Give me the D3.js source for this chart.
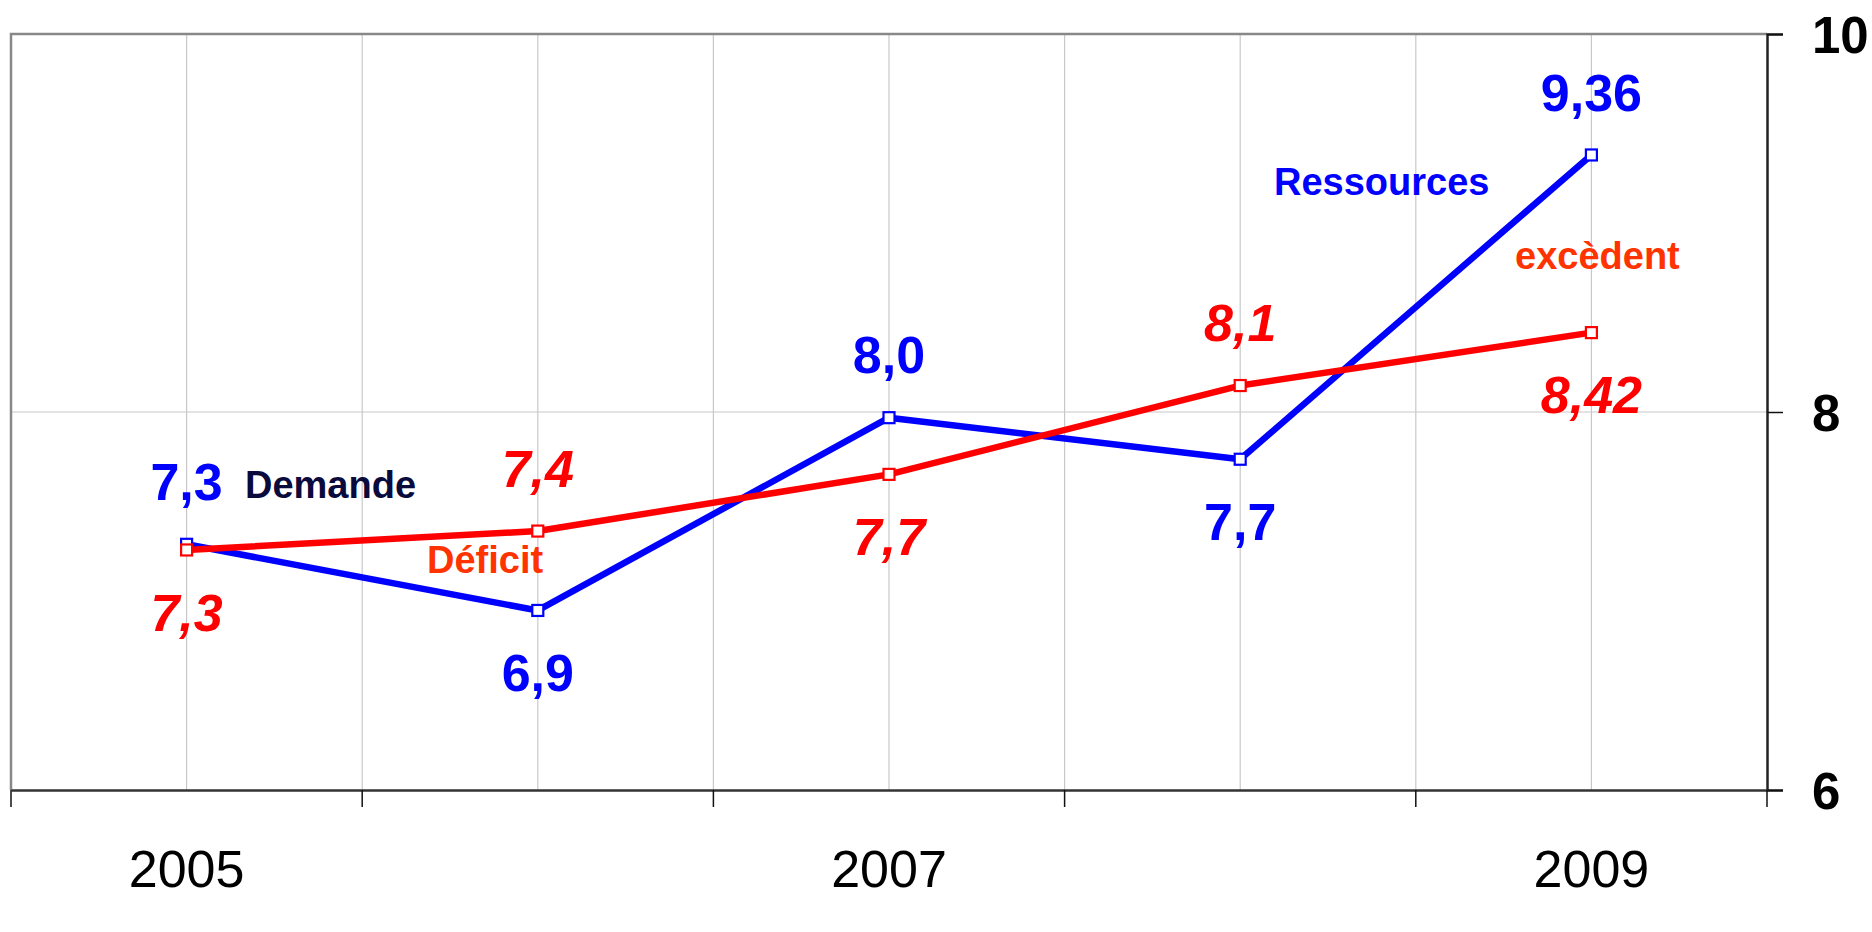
<!DOCTYPE html>
<html>
<head>
<meta charset="utf-8">
<script src="https://cdn.jsdelivr.net/npm/d3@7"></script>
<style>
    body { margin: 0; background: #fff; }
    svg { display: block; font-family: "Liberation Sans", Arial, sans-serif; }
</style>
</head>
<body>
<div id="container"></div>
<script>
const years = ['2005', '2006', '2007', '2008', '2009'];
const labelledYears = ['2005', '2007', '2009'];
const ressources = [7.30, 6.95, 7.97, 7.75, 9.36];
const ressourcesLabels = ['7,3', '6,9', '8,0', '7,7', '9,36'];
const deficit = [7.27, 7.37, 7.67, 8.14, 8.42];
const deficitLabels = ['7,3', '7,4', '7,7', '8,1', '8,42'];
const yTicks = [6, 8, 10];

const drawChart = () => {

    const width = 1872;
    const height = 932;
    const left = 11, right = 1767, top = 34, bottom = 790;

    const BLUE = '#0000ff';
    const RED = '#ff0000';

    const svg = d3.select('#container')
        .append('svg')
        .attr('width', width)
        .attr('height', height);

    const x = d3.scaleBand()
        .domain(years)
        .range([left, right])
        .padding(0);

    const y = d3.scaleLinear()
        .domain([6, 10])
        .range([bottom, top]);

    const cx = d => x(d) + x.bandwidth() / 2;

    // vertical gridlines: band edges and band centres
    const gridX = [];
    years.forEach(d => { gridX.push(x(d)); gridX.push(cx(d)); });

    svg.append('g')
        .selectAll('line')
        .data(gridX.slice(1))
        .join('line')
        .attr('x1', d => d).attr('x2', d => d)
        .attr('y1', top).attr('y2', bottom)
        .attr('stroke', '#c8c8c8')
        .attr('stroke-width', 1.2);

    // horizontal gridline at 8
    svg.append('line')
        .attr('x1', left).attr('x2', right)
        .attr('y1', y(8)).attr('y2', y(8))
        .attr('stroke', '#c8c8c8')
        .attr('stroke-width', 1.2);

    // frame top & left
    svg.append('path')
        .attr('d', `M${left},${bottom}V${top}H${right}`)
        .attr('fill', 'none')
        .attr('stroke', '#888')
        .attr('stroke-width', 2.5);

    // right y axis
    const yAxis = svg.append('g')
        .attr('transform', `translate(${right},0)`)
        .call(d3.axisRight(y).tickValues(yTicks).tickSize(16).tickPadding(29).tickFormat(d3.format('d')));
    yAxis.select('.domain').attr('stroke', '#222').attr('stroke-width', 2.5);
    yAxis.selectAll('.tick line').attr('stroke', '#111').attr('stroke-width', 1.5);
    yAxis.selectAll('text')
        .attr('font-family', '"Liberation Sans", Arial, sans-serif')
        .attr('font-size', 51)
        .attr('font-weight', 'bold')
        .attr('fill', '#000')
        .attr('dy', '0.36em');

    // bottom x axis
    const xAxis = svg.append('g')
        .attr('transform', `translate(0,${bottom})`)
        .call(d3.axisBottom(x).tickSize(0).tickPadding(60)
            .tickFormat(d => labelledYears.includes(d) ? d : ''));
    xAxis.select('.domain').attr('stroke', '#333').attr('stroke-width', 2.5);
    xAxis.selectAll('text')
        .attr('font-family', '"Liberation Sans", Arial, sans-serif')
        .attr('font-size', 52)
        .attr('fill', '#000')
        .attr('dy', '0.72em');

    xAxis.selectAll('.edge')
        .data(years.map(d => x(d)).concat([right]))
        .join('line')
        .attr('class', 'edge')
        .attr('x1', d => d).attr('x2', d => d)
        .attr('y1', 0).attr('y2', 17)
        .attr('stroke', '#111')
        .attr('stroke-width', 1.5);

    const line = d3.line()
        .x((d, i) => cx(years[i]))
        .y(d => y(d));

    const drawSeries = (values, color) => {
        svg.append('path')
            .datum(values)
            .attr('fill', 'none')
            .attr('stroke', color)
            .attr('stroke-width', 6.5)
            .attr('stroke-linejoin', 'round')
            .attr('d', line);
    };

    const drawMarkers = (values, color) => {
        svg.append('g')
            .selectAll('rect')
            .data(values)
            .join('rect')
            .attr('x', (d, i) => cx(years[i]) - 5.5)
            .attr('y', d => y(d) - 5.5)
            .attr('width', 11)
            .attr('height', 11)
            .attr('fill', '#fff')
            .attr('stroke', color)
            .attr('stroke-width', 2.2);
    };

    drawSeries(ressources, BLUE);
    drawMarkers(ressources, BLUE);
    drawSeries(deficit, RED);
    drawMarkers(deficit, RED);

    // value labels: above when the series is the higher one at that year
    const drawLabels = (values, other, labels, color, italic) => {
        svg.append('g')
            .selectAll('text')
            .data(values)
            .join('text')
            .attr('x', (d, i) => cx(years[i]))
            .attr('y', (d, i) => y(d) + (d >= other[i] ? -63 : 62))
            .attr('dy', '0.36em')
            .attr('text-anchor', 'middle')
            .attr('font-size', 52)
            .attr('font-weight', 'bold')
            .attr('font-style', italic ? 'italic' : 'normal')
            .attr('fill', color)
            .text((d, i) => labels[i]);
    };

    drawLabels(ressources, deficit, ressourcesLabels, BLUE, false);
    drawLabels(deficit, ressources, deficitLabels, RED, true);

    // annotations
    const notes = [
        { text: 'Demande', x: 245, y: 498, color: '#0a0a3c' },
        { text: 'Déficit', x: 427, y: 573, color: '#ff3300' },
        { text: 'Ressources', x: 1274, y: 195, color: '#0000ff' },
        { text: 'excèdent', x: 1515, y: 269, color: '#ff3300' }
    ];

    svg.append('g')
        .selectAll('text')
        .data(notes)
        .join('text')
        .attr('x', d => d.x)
        .attr('y', d => d.y)
        .attr('font-size', 38)
        .attr('font-weight', 'bold')
        .attr('fill', d => d.color)
        .text(d => d.text);
}

drawChart()
</script>
</body>
</html>
